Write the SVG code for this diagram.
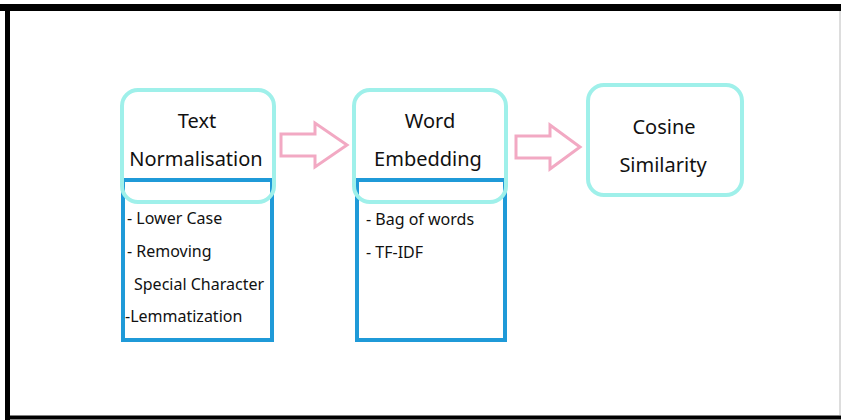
<svg xmlns="http://www.w3.org/2000/svg" width="841" height="420" viewBox="0 0 841 420">
<style>
.frame{fill:none;stroke:#000}
.head{fill:none;stroke:#9ff0ea;stroke-width:4}
.list{fill:none;stroke:#1f9ad8;stroke-width:4}
.arrow{fill:#fff;stroke:#f2a9c3;stroke-width:3;stroke-linejoin:miter}
.t{font-family:"Noto Sans","DejaVu Sans",sans-serif;fill:#111}
.h{font-size:20px;text-anchor:middle}
.i{font-size:16px}
</style>
<rect x="0" y="0" width="841" height="420" fill="#fff"/>
<line class="frame" x1="0" y1="7.5" x2="841" y2="7.5" stroke-width="7"/>
<line class="frame" x1="7.5" y1="4" x2="7.5" y2="420" stroke-width="5"/>
<line class="frame" x1="5" y1="417.5" x2="841" y2="417.5" stroke-width="4"/>
<line x1="840" y1="11" x2="840" y2="415" stroke="#bbb" stroke-width="1"/>
<g id="text-normalisation">
<rect class="list" x="123" y="180" width="149" height="160"/>
<rect class="head" x="122" y="90" width="152" height="112" rx="16"/>
<text class="t h" x="197" y="128">Text</text>
<text class="t h" x="196" y="166">Normalisation</text>
<text class="t i" x="127" y="224">- Lower Case</text>
<text class="t i" x="127" y="257">- Removing</text>
<text class="t i" x="134" y="290">Special Character</text>
<text class="t i" x="125" y="322">-Lemmatization</text>
</g>
<g id="word-embedding">
<rect class="list" x="357" y="180" width="148" height="160"/>
<rect class="head" x="354" y="90" width="152" height="112" rx="16"/>
<text class="t h" x="430" y="128">Word</text>
<text class="t h" x="428" y="166">Embedding</text>
<text class="t i" x="366" y="225">- Bag of words</text>
<text class="t i" x="366" y="258">- TF-IDF</text>
</g>
<g id="cosine-similarity">
<rect class="head" x="588" y="85" width="154" height="110" rx="16"/>
<text class="t h" x="664" y="134">Cosine</text>
<text class="t h" x="663" y="172">Similarity</text>
</g>
<g id="connectors">
<polygon class="arrow" points="281,134 315,134 315,123 347,145 315,167 315,156 281,156"/>
<polygon class="arrow" points="516,136 550,136 550,125 580,147 550,169 550,158 516,158"/>
</g>
</svg>
